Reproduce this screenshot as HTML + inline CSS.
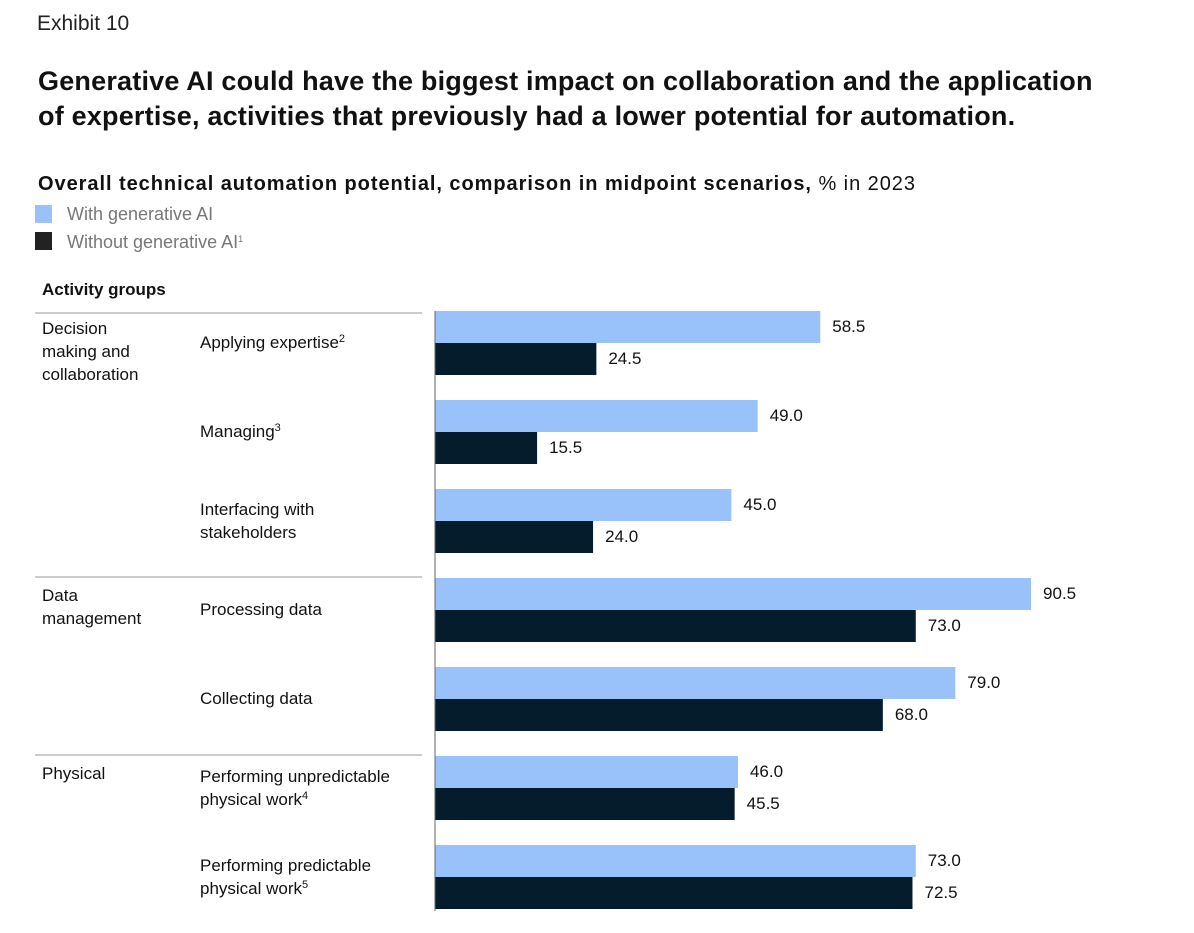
<!DOCTYPE html>
<html><head><meta charset="utf-8"><style>
body{margin:0;background:#fff;width:1194px;height:933px;overflow:hidden;font-family:"Liberation Sans",sans-serif;color:#111;position:relative}
.t{position:absolute;white-space:nowrap}
sup{font-size:11px;vertical-align:6px;line-height:0}
</style></head><body>
<div class="t" style="left:37px;top:12px;font-size:21px;color:#222">Exhibit 10</div>
<div class="t" style="left:38px;top:64px;font-size:27px;font-weight:bold;line-height:35px;letter-spacing:0.2px">Generative AI could have the biggest impact on collaboration and the application<br>of expertise, activities that previously had a lower potential for automation.</div>
<div class="t" style="left:38px;top:173px;font-size:20px;letter-spacing:0.95px"><b>Overall technical automation potential, comparison in midpoint scenarios,</b> % in 2023</div>
<div style="position:absolute;left:35px;top:205px;width:17px;height:18px;background:#99c2fa"></div>
<div class="t" style="left:67px;top:204px;font-size:18px;color:#777">With generative AI</div>
<div style="position:absolute;left:35px;top:232px;width:17px;height:18px;background:#222"></div>
<div class="t" style="left:67px;top:232px;font-size:18px;color:#777">Without generative AI<sup style="font-size:9px">1</sup></div>
<div class="t" style="left:42px;top:280px;font-size:17px;font-weight:bold">Activity groups</div>
<svg id="chart" width="1194" height="933" style="position:absolute;left:0;top:0"></svg>
<div id="labels"></div>
<script>
const categories=["Applying expertise","Managing","Interfacing with|stakeholders","Processing data","Collecting data","Performing unpredictable|physical work","Performing predictable|physical work"];
const sups=["2","3","","","","4","5"];
const withAI=[58.5,49.0,45.0,90.5,79.0,46.0,73.0];
const withoutAI=[24.5,15.5,24.0,73.0,68.0,45.5,72.5];
const groups=[["Decision|making and|collaboration",0],["Data|management",3],["Physical",5]];
const X0=435,SC=6.586,Y0=311,STEP=89,BH=32;
const xs=v=>X0+v*SC;
const svg=document.getElementById('chart'),NS='http://www.w3.org/2000/svg';
const lab=document.getElementById('labels');
function txt(html,l,t,fs,name){const d=document.createElement('div');d.className='t';d.style.cssText=`left:${l}px;top:${t}px;font-size:${fs}px;line-height:23px`;d.innerHTML=html;


lab.appendChild(d);}
categories.forEach((c,i)=>{
 const y=Y0+i*STEP;
 [[withAI[i],'#99c2fa',y,'bar-with'],[withoutAI[i],'#051c2c',y+BH,'bar-without']].forEach(([v,col,yy,n])=>{
  const r=document.createElementNS(NS,'rect');r.setAttribute('x',X0);r.setAttribute('y',yy);r.setAttribute('width',xs(v)-X0);r.setAttribute('height',BH);r.setAttribute('fill',col);
  
  
  svg.appendChild(r);
  txt(v.toFixed(1),xs(v)+12,yy+4,17,'value-label');
 });
 const parts=c.split('|');
 txt(parts.join('<br>')+(sups[i]?'<sup>'+sups[i]+'</sup>':''),200,y+(parts.length>1?9:20),17,'category-label');
});
groups.forEach(([g,i])=>{
 const y=Y0+i*STEP;
 if(i>0){const l=document.createElementNS(NS,'line');l.setAttribute('x1',35);l.setAttribute('x2',422);l.setAttribute('y1',y-1);l.setAttribute('y2',y-1);l.setAttribute('stroke','#999');
 
 
 svg.appendChild(l);}
 txt(g.split('|').join('<br>'),42,y+6,17,'group-label');
});
const topRule=document.createElementNS(NS,'line');topRule.setAttribute('x1',35);topRule.setAttribute('x2',422);topRule.setAttribute('y1',313);topRule.setAttribute('y2',313);topRule.setAttribute('stroke','#999');


svg.appendChild(topRule);
const ax=document.createElementNS(NS,'line');ax.setAttribute('x1',X0);ax.setAttribute('x2',X0);ax.setAttribute('y1',311);ax.setAttribute('y2',911);ax.setAttribute('stroke','#666');


svg.appendChild(ax);
</script>
</body></html>
